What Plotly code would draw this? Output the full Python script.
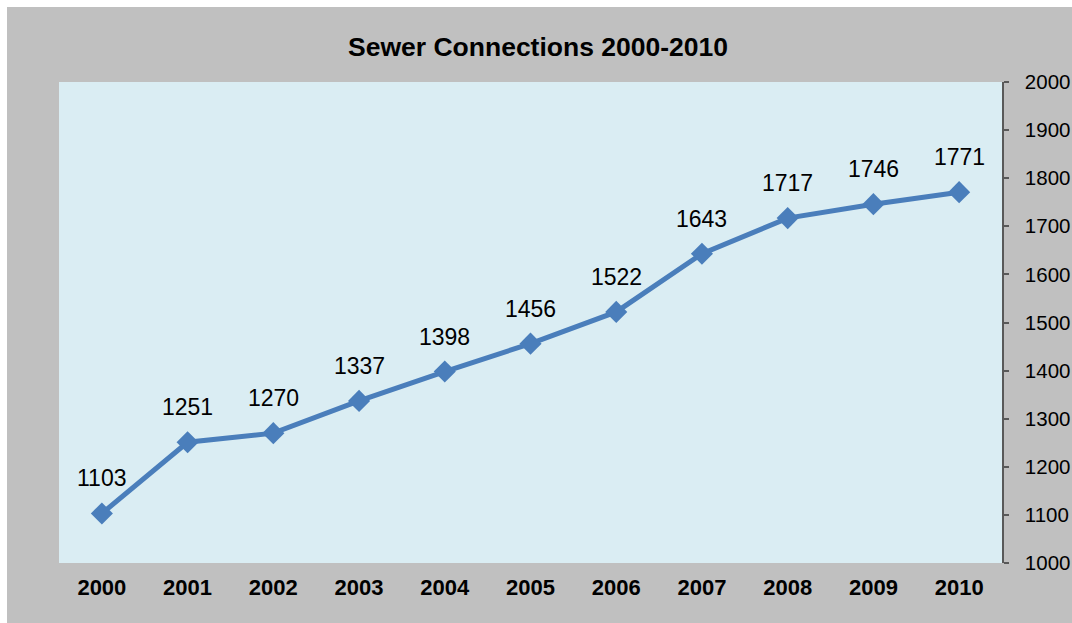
import plotly.graph_objects as go

years = ["2000", "2001", "2002", "2003", "2004", "2005",
         "2006", "2007", "2008", "2009", "2010"]
connections = [1103, 1251, 1270, 1337, 1398, 1456, 1522, 1643, 1717, 1746, 1771]
y_ticks = list(range(1000, 2001, 100))

W, H = 1072, 623
L, R, T, B = 59, 70, 82, 60
pw = W - L - R
ph = H - T - B

line_color = "#4A7EBB"
font = "Liberation Sans, Arial, sans-serif"

fig = go.Figure()
fig.add_trace(go.Scatter(
    x=years, y=connections, mode="lines+markers",
    line=dict(color=line_color, width=5),
    marker=dict(symbol="diamond", size=17, color=line_color),
    hoverinfo="x+y", showlegend=False,
))

# value labels above each point (x given as category index)
annotations = [
    dict(x=i, y=v, text=str(v), showarrow=False, xref="x", yref="y",
         yshift=35, font=dict(family=font, size=23, color="#000000"))
    for i, v in enumerate(connections)
]
annotations.append(dict(
    text="<b>Sewer Connections 2000-2010</b>", showarrow=False,
    xref="paper", yref="paper", x=(W / 2 + 2 - L) / pw, y=1 + (T - 47) / ph,
    yanchor="middle", xanchor="center",
    font=dict(family=font, size=26.5, color="#000000"),
))

# white margin strips on the top and left edges
shapes = [
    dict(type="rect", xref="paper", yref="paper", layer="below",
         x0=-L / pw, x1=(W - L) / pw, y0=1 + (T - 7) / ph, y1=1 + T / ph,
         fillcolor="white", line=dict(width=0)),
    dict(type="rect", xref="paper", yref="paper", layer="below",
         x0=-L / pw, x1=(-L + 7) / pw, y0=-B / ph, y1=1 + T / ph,
         fillcolor="white", line=dict(width=0)),
]

fig.update_layout(
    width=W, height=H,
    margin=dict(l=L, r=R, t=T, b=B, pad=0),
    paper_bgcolor="#C0C0C0",
    plot_bgcolor="#DAEDF3",
    font=dict(family=font, color="#000000"),
    annotations=annotations,
    shapes=shapes,
    xaxis=dict(
        type="category", range=[-0.5, len(years) - 0.5],
        showgrid=False, zeroline=False, showline=False, automargin=False,
        ticks="", tickfont=dict(family=font, size=22, color="#000000", weight="bold"),
        ticklabelstandoff=9, fixedrange=True,
    ),
    yaxis=dict(
        side="right", range=[1000, 2000], tickvals=y_ticks, automargin=False,
        showgrid=False, zeroline=False, showline=True,
        linecolor="#595959", linewidth=1.5, ticks="outside", ticklen=5,
        tickcolor="#595959", tickwidth=1.5,
        tickfont=dict(family=font, size=20.5, color="#000000"),
        ticklabelstandoff=12, fixedrange=True,
    ),
)

fig.write_html("out.html")
